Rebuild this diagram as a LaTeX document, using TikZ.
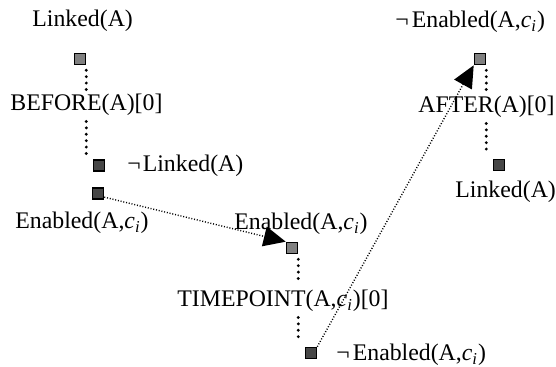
\documentclass[tikz,border=0pt]{standalone}
\usepackage{fontspec}
\setmainfont{Liberation Serif}
\usetikzlibrary{arrows.meta}
\begin{document}
\begin{tikzpicture}[x=0.5pt,y=-0.5pt,
  sq/.style={draw=black,line width=0.8pt,minimum size=5.5pt,inner sep=0pt},
  sqlight/.style={sq,fill=black!50},
  sqdark/.style={sq,fill=black!72},
  lbl/.style={inner sep=0pt,font=\fontsize{11.9pt}{14pt}\selectfont},
  vdots/.style={line width=1.6pt,line cap=round,dash pattern=on 0pt off 3.2pt,shorten <=2.5pt,shorten >=2pt},
  fdots/.style={line width=0.7pt,dash pattern=on 0.5pt off 0.9pt,-{Triangle[length=11pt,width=10pt]}}]
\useasboundingbox (0,0) rectangle (556,367);
% squares
\node[sqlight] (s1) at (80,59) {};
\node[sqdark]  (s2) at (99,165.5) {};
\node[sqdark]  (s3) at (98,193.5) {};
\node[sqlight] (s4) at (292,248) {};
\node[sqdark]  (s5) at (311,353) {};
\node[sqlight] (s6) at (480,59) {};
\node[sqdark]  (s7) at (499,165) {};
% texts
\node[lbl,anchor=base west] (t1) at (32,27) {Linked(A)};
\node[lbl,anchor=base west] (bl) at (10,111) {BEFORE(A)[0]};
\node[lbl,anchor=base west] (t2) at (127,172) {¬\hspace{1pt}Linked(A)};
\node[lbl,anchor=base west] (t3) at (15,229) {Enabled(A,\textit{c}\textsubscript{\textit{i}})};
\node[lbl,anchor=base west] (t4) at (234,230) {Enabled(A,\textit{c}\textsubscript{\textit{i}})};
\node[lbl,anchor=base west] (tp) at (177,307) {TIMEPOINT(A,\textit{c}\textsubscript{\textit{i}})[0]};
\node[lbl,anchor=base west] (t5) at (336,361) {¬\hspace{1.5pt}Enabled(A,\textit{c}\textsubscript{\textit{i}})};
\node[lbl,anchor=base west] (t6) at (395,28) {¬\hspace{1.5pt}Enabled(A,\textit{c}\textsubscript{\textit{i}})};
\node[lbl,anchor=base west] (al) at (418,113) {AFTER(A)[0]};
\node[lbl,anchor=base west] (t7) at (455,198) {Linked(A)};
% vertical dotted connectors
\draw[vdots] (s1.south east) -- (s1.south east |- bl.north);
\draw[vdots] (s1.south east |- bl.south) -- (s1.south east |- s2.north);
\draw[vdots,shorten >=4pt] (s4.south east) -- (s4.south east |- tp.north);
\draw[vdots] (s4.south east |- tp.south) -- (s4.south east |- s5.north);
\draw[vdots] (s6.south east) -- (s6.south east |- al.north);
\draw[vdots] (s6.south east |- al.south) -- (s6.south east |- s7.north);
% diagonal arrows
\draw[fdots] (s3.-30) -- (s4.north west);
\draw[fdots] (s5.north east) -- (s6.south west);
\end{tikzpicture}
\end{document}
